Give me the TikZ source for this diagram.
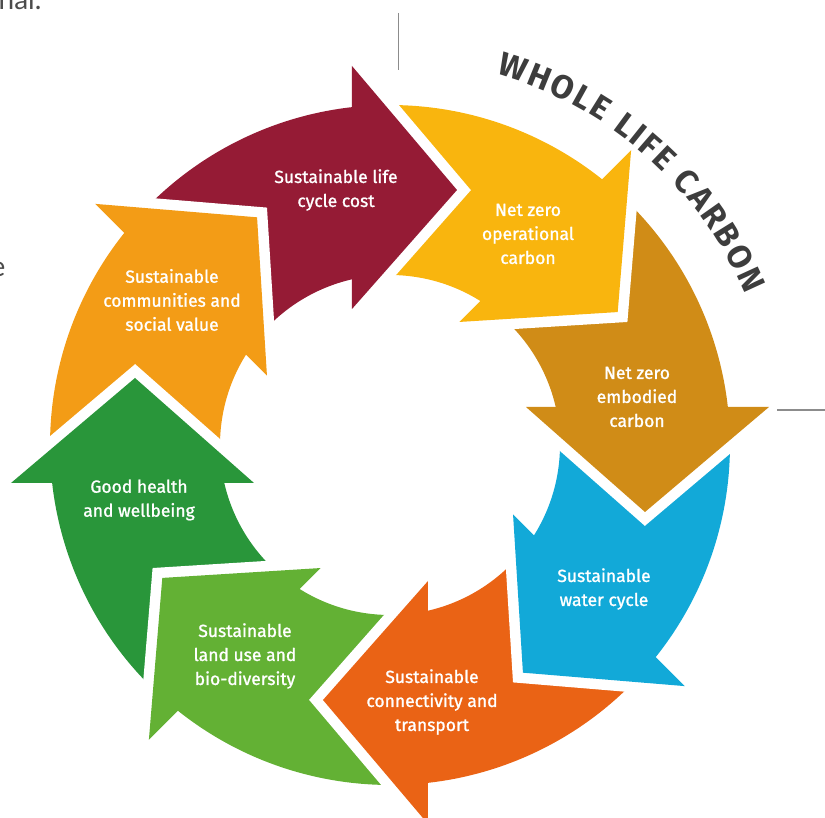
\documentclass[tikz,border=0pt]{standalone}
\usepackage{fontspec}
\setsansfont{Fira Sans}
\renewcommand{\familydefault}{\sfdefault}
\newfontfamily\pagefont{Lato}
\newfontfamily\segfont{Fira Sans}[FakeBold=1.2]
\usetikzlibrary{decorations.text}
\definecolor{cRed}{HTML}{951B35}
\definecolor{cYellow}{HTML}{F9B50E}
\definecolor{cGold}{HTML}{D08C17}
\definecolor{cBlue}{HTML}{12A9D8}
\definecolor{cOrange}{HTML}{EA6315}
\definecolor{cLime}{HTML}{63B134}
\definecolor{cGreen}{HTML}{29963A}
\definecolor{cAmber}{HTML}{F39C16}
\definecolor{cTitle}{HTML}{3D3D3D}
\newcommand{\titlefont}{\fontsize{33}{33}\selectfont\bfseries}
\tikzset{
    seglabel/.style = {text=white, align=center,
        font=\segfont\fontsize{17.5}{24}\selectfont},
    notch/.style = {draw=white, line width=21pt, line join=miter},
    pageline/.style = {draw=black!45, line width=1.5pt},
    pagetext/.style = {text=black!70, font=\pagefont\fontsize{28}{28}\selectfont}
}

\begin{document}
\begin{tikzpicture}[x=1pt,y=1pt]
  \useasboundingbox (-390,445) rectangle (435,-373);
  % ring pieces
  \foreach \col [count=\i from 0] in {cRed,cYellow,cGold,cBlue,cOrange,cLime,cGreen,cAmber}{
    \fill[\col,rotate=-45*\i] (139.4:340) arc[start angle=139.4,end angle=94.4,radius=340]
      -- (100.9:170) arc[start angle=100.9,end angle=145.9,radius=170] -- cycle;
  };
  % white gap in front of each head
  \foreach \i in {0,...,7}{
    \draw[notch,rotate=-45*\i] (-38,379) -- (67,255) -- (-38,136);
  };
  % heads
  \foreach \col [count=\i from 0] in {cRed,cYellow,cGold,cBlue,cOrange,cLime,cGreen,cAmber}{
    \fill[\col,rotate=-45*\i] (-38,379) -- (67,255) -- (-38,136) -- cycle;
  };
  \node[seglabel] (lifecost) at (-54,255) {Sustainable life\\cycle cost};
  \node[seglabel] (operational) at (138,211) {Net zero\\operational\\carbon};
  \node[seglabel] (embodied) at (247,48) {Net zero\\embodied\\carbon};
  \node[seglabel] (water) at (214,-144) {Sustainable\\water cycle};
  \node[seglabel] (transport) at (42,-257) {Sustainable\\connectivity and\\transport};
  \node[seglabel] (landuse) at (-145,-211) {Sustainable\\land use and\\bio-diversity};
  \node[seglabel] (health) at (-251,-55) {Good health\\and wellbeing};
  \node[seglabel] (community) at (-218,145) {Sustainable\\communities and\\social value};
  % title on the arc
  \path[decorate,decoration={text along path,text align={fit to path},text color=cTitle,
    text={|\titlefont|WHOLE LIFE CARBON}}] (74:386) arc[start angle=74,end angle=23,radius=386];
  % bits of the page
  \draw[pageline] (8.5,432) -- (8.5,375);
  \draw[pageline] (387,35) -- (435,35);
  \node[pagetext,anchor=base east] (pagenal) at (-345,435.5) {nal.};
  \node[pagetext,anchor=base east] (pagee) at (-381,168) {e};
\end{tikzpicture}
\end{document}
